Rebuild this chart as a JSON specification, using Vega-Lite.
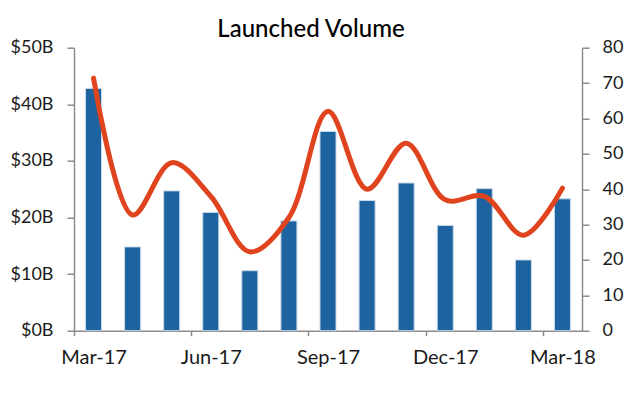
{
  "$schema": "https://vega.github.io/schema/vega-lite/v6.json",
  "width": 508,
  "height": 283,
  "autosize": {"type": "none"},
  "padding": {"left": 74, "top": 47.7, "right": 47, "bottom": 62.3},
  "background": "white",
  "config": {
    "font": "Lato",
    "view": {"stroke": null},
    "axis": {"grid": false, "labelFont": "Lato", "labelFontSize": 18, "labelColor": "#1a1a1a", "domainColor": "#8c8c8c", "tickColor": "#8c8c8c", "domainWidth": 1.5, "tickWidth": 1.5, "title": null}
  },
  "title": {"text": "Launched Volume", "fontSize": 24, "fontWeight": 500, "font": "Lato", "color": "#000000", "anchor": "middle", "dx": -17, "offset": -3},
  "data": {"values": [
    {"month": "Mar-17", "volume": 42.8, "count": 71.4},
    {"month": "Apr-17", "volume": 14.8, "count": 32.7},
    {"month": "May-17", "volume": 24.7, "count": 47.5},
    {"month": "Jun-17", "volume": 20.9, "count": 38},
    {"month": "Jul-17", "volume": 10.6, "count": 22.3},
    {"month": "Aug-17", "volume": 19.4, "count": 32},
    {"month": "Sep-17", "volume": 35.2, "count": 62},
    {"month": "Oct-17", "volume": 23.0, "count": 40},
    {"month": "Nov-17", "volume": 26.1, "count": 53},
    {"month": "Dec-17", "volume": 18.6, "count": 37},
    {"month": "Jan-18", "volume": 25.1, "count": 38},
    {"month": "Feb-18", "volume": 12.5, "count": 27},
    {"month": "Mar-18", "volume": 23.3, "count": 40.3}
  ]},
  "encoding": {
    "x": {
      "field": "month", "type": "ordinal", "sort": null,
      "scale": {"paddingInner": 0.59, "paddingOuter": 0.295},
      "axis": {"values": ["Mar-17", "Jun-17", "Sep-17", "Dec-17", "Mar-18"], "labelAngle": 0, "tickSize": 5, "labelPadding": 12, "labelFontSize": 20, "tickOffset": -19.54, "labelOffset": 19.54}
    }
  },
  "layer": [
    {
      "mark": {"type": "bar", "color": "#1d63a0", "stroke": "#c9d9ea", "strokeWidth": 1},
      "encoding": {
        "y": {"field": "volume", "type": "quantitative", "scale": {"domain": [0, 50]},
          "axis": {"orient": "left", "values": [0, 10, 20, 30, 40, 50], "labelExpr": "'$' + datum.value + 'B'", "tickSize": 7, "labelPadding": 14}}
      }
    },
    {
      "mark": {"type": "line", "color": "#e0441e", "strokeWidth": 5, "interpolate": "catmull-rom", "strokeCap": "round"},
      "encoding": {
        "y": {"field": "count", "type": "quantitative", "scale": {"domain": [0, 80]},
          "axis": {"orient": "right", "values": [0, 10, 20, 30, 40, 50, 60, 70, 80], "tickSize": 7, "labelPadding": 13}}
      }
    }
  ],
  "resolve": {"scale": {"y": "independent"}}
}
